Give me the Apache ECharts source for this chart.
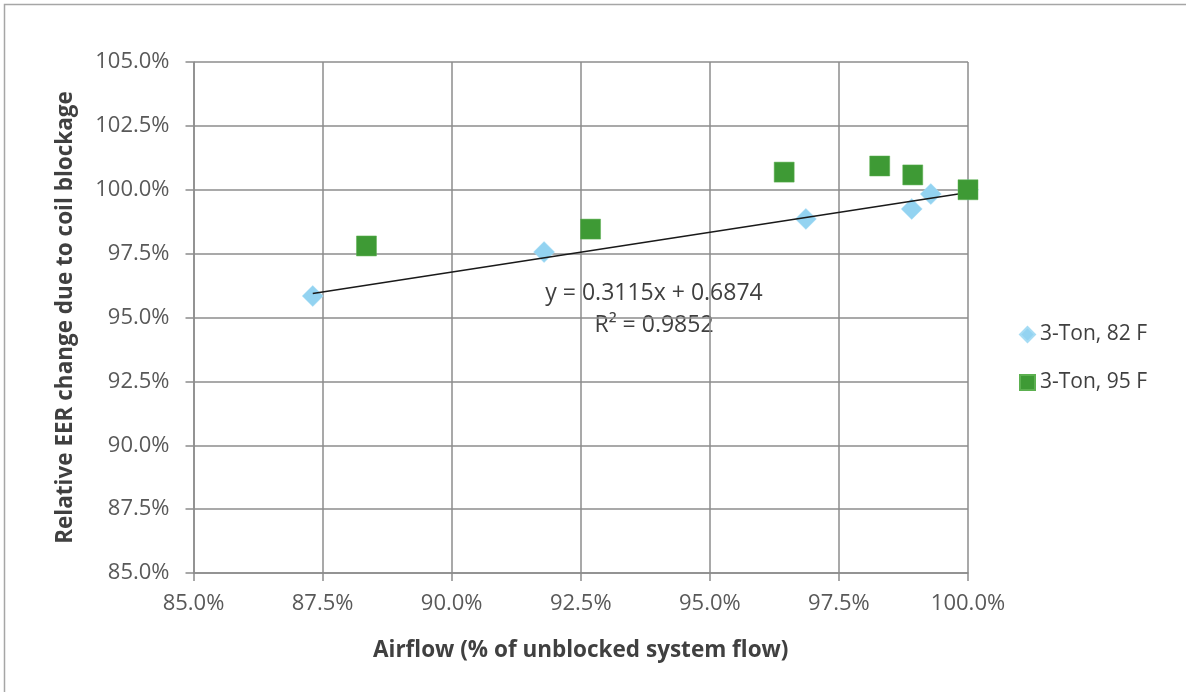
<!DOCTYPE html>
<html>
<head>
<meta charset="utf-8">
<script src="https://cdn.jsdelivr.net/npm/echarts@6/dist/echarts.min.js"></script>
<style>
  html, body { margin: 0; padding: 0; background: #fff; }
  #chart { width: 1186px; height: 692px; }
</style>
</head>
<body>
<div id="chart"></div>
<script>
// Airflow (% of unblocked flow) vs. relative EER, two test conditions
const series82Name = '3-Ton, 82 F';
const series95Name = '3-Ton, 95 F';
const airflow82 = [87.31, 91.79, 96.86, 98.91, 99.28, 100.0];
const eer82     = [95.84, 97.56, 98.86, 99.25, 99.83, 100.0];
const airflow95 = [88.35, 92.69, 96.44, 98.29, 98.93, 100.0];
const eer95     = [97.80, 98.46, 100.69, 100.93, 100.58, 100.0];

// Linear fit of the 82 F set (fractional units)
const fitSlope = 0.3115;
const fitIntercept = 0.6874;
const fitR2 = 0.9852;

const xMin = 85, xMax = 100, xStep = 2.5;
const yMin = 85, yMax = 105, yStep = 2.5;

const pct = v => v.toFixed(1) + '%';
const fitAt = x => (fitSlope * x / 100 + fitIntercept) * 100;
const fitX = [Math.min(...airflow82), Math.max(...airflow82)];
const fitLine = fitX.map(x => [x, fitAt(x)]);

const textColor = '#404040';
const labelColor = '#595959';
const gridColor = '#8c8c8c';
const fontFamily = '"Open Sans", "Noto Sans", sans-serif';

const chart = echarts.init(document.getElementById('chart'));
chart.setOption({
  animation: false,
  backgroundColor: '#ffffff',
  grid: { left: 193.5, right: 218, top: 62, bottom: 119, containLabel: false },
  xAxis: {
    type: 'value', min: xMin, max: xMax, interval: xStep,
    name: 'Airflow (% of unblocked system flow)',
    nameLocation: 'middle', nameGap: 66,
    nameTextStyle: { color: textColor, fontSize: 22.5, fontWeight: 'bold', fontFamily },
    axisLine: { show: true, lineStyle: { color: gridColor, width: 1.5 } },
    axisTick: { show: true, inside: false, length: 8, lineStyle: { color: gridColor, width: 1.5 } },
    axisLabel: { color: labelColor, fontSize: 22, fontFamily, margin: 20, formatter: pct },
    splitLine: { show: true, lineStyle: { color: gridColor, width: 1.5 } }
  },
  yAxis: {
    type: 'value', min: yMin, max: yMax, interval: yStep,
    name: 'Relative EER change due to coil blockage',
    nameLocation: 'middle', nameGap: 116, nameRotate: 90,
    nameTextStyle: { color: textColor, fontSize: 22.5, fontWeight: 'bold', fontFamily },
    axisLine: { show: true, lineStyle: { color: gridColor, width: 1.5 } },
    axisTick: { show: true, inside: false, length: 8, lineStyle: { color: gridColor, width: 1.5 } },
    axisLabel: { color: labelColor, fontSize: 22, fontFamily, margin: 24, formatter: pct },
    splitLine: { show: true, lineStyle: { color: gridColor, width: 1.5 } }
  },
  legend: {
    data: [series82Name, series95Name],
    orient: 'vertical',
    left: 1014, top: 319,
    itemWidth: 15, itemHeight: 15, itemGap: 27,
    textStyle: { color: textColor, fontSize: 21, fontFamily }
  },
  graphic: [
    {
      type: 'rect', silent: true, z: -1,
      shape: { x: 4.5, y: 4.5, width: 1200, height: 700 },
      style: { fill: null, stroke: '#a6a6a6', lineWidth: 1.5 }
    },
    {
      type: 'text', x: 654, y: 293,
      style: { text: 'y = ' + fitSlope + 'x + ' + fitIntercept, fill: textColor, font: '23px ' + fontFamily, align: 'center', verticalAlign: 'middle' }
    },
    {
      type: 'text', x: 654, y: 325,
      style: { text: 'R² = ' + fitR2, fill: textColor, font: '23px ' + fontFamily, align: 'center', verticalAlign: 'middle' }
    }
  ],
  series: [
    {
      name: 'fit', type: 'line', data: fitLine, symbol: 'none', z: 3,
      lineStyle: { color: '#1a1a1a', width: 1.5 }, silent: true
    },
    {
      name: series82Name, type: 'scatter', symbol: 'diamond', symbolSize: 21, z: 2,
      data: airflow82.map((x, i) => [x, eer82[i]]),
      itemStyle: { color: '#93d3f1', borderColor: '#a6dcf4', borderWidth: 0.5, opacity: 1 }
    },
    {
      name: series95Name, type: 'scatter', symbol: 'rect', symbolSize: 20, z: 4,
      data: airflow95.map((x, i) => [x, eer95[i]]),
      itemStyle: { color: '#3e9a35', borderColor: '#5cb050', borderWidth: 0.5, opacity: 1 }
    }
  ]
});
</script>
</body>
</html>
